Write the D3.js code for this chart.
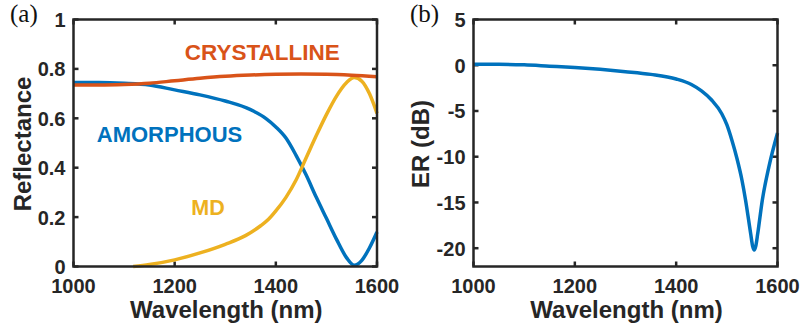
<!DOCTYPE html>
<html>
<head>
<meta charset="utf-8">
<script src="https://cdn.jsdelivr.net/npm/d3@7"></script>
<style>
  html, body { margin: 0; padding: 0; background: #fff; }
  svg { display: block; }
  text { font-family: "Liberation Sans", Arial, sans-serif; font-weight: bold; fill: #262626; }
</style>
</head>
<body>
<svg id="chart" width="804" height="330"></svg>
<script>
// ---------- data ----------
const xTicks = [1000, 1200, 1400, 1600];
const yTicksA = [0, 0.2, 0.4, 0.6, 0.8, 1];
const yTickLabelsA = ["0", "0.2", "0.4", "0.6", "0.8", "1"];
const yTicksB = [5, 0, -5, -10, -15, -20];

const crystallineWl = [1000, 1050, 1100, 1150, 1200, 1250, 1300, 1350, 1400, 1450, 1500, 1550, 1600];
const crystallineR  = [0.735, 0.735, 0.737, 0.742, 0.752, 0.762, 0.770, 0.775, 0.778, 0.779, 0.778, 0.774, 0.768];

const amorphousWl = [1000, 1050, 1100, 1150, 1200, 1250, 1300, 1350, 1380, 1400, 1420, 1440, 1460, 1480, 1500, 1520, 1540, 1555, 1570, 1585, 1600];
const amorphousR  = [0.745, 0.745, 0.742, 0.735, 0.715, 0.695, 0.670, 0.635, 0.600, 0.565, 0.520, 0.450, 0.370, 0.280, 0.195, 0.110, 0.035, 0.005, 0.025, 0.075, 0.140];

const mdWl = [1118, 1150, 1200, 1250, 1300, 1340, 1370, 1385, 1400, 1420, 1440, 1460, 1480, 1500, 1520, 1540, 1555, 1570, 1585, 1600];
const mdR  = [0.000, 0.008, 0.027, 0.055, 0.090, 0.125, 0.165, 0.190, 0.225, 0.280, 0.350, 0.440, 0.530, 0.615, 0.690, 0.745, 0.765, 0.750, 0.700, 0.620];

const erWl = [1000, 1050, 1100, 1150, 1200, 1250, 1300, 1350, 1400, 1430, 1450, 1470, 1490, 1500, 1510, 1520, 1530, 1537, 1547, 1551, 1554, 1557, 1561, 1570, 1583, 1600];
const erDb = [0.1, 0.1, 0.05, -0.1, -0.25, -0.45, -0.7, -1.0, -1.5, -2.1, -2.8, -3.8, -5.3, -6.5, -8.2, -10.2, -12.6, -14.75, -18.4, -19.8, -20.2, -19.8, -18.4, -14.75, -11.1, -7.4];

const annotations = [
  { text: "CRYSTALLINE", wl: 1220, r: 0.835, color: "#D95319", size: 22.5 },
  { text: "AMORPHOUS", wl: 1046, r: 0.503, color: "#0072BD", size: 22 },
  { text: "MD", wl: 1233, r: 0.208, color: "#EDB120", size: 21.5 }
];

// ---------- drawing ----------
const svg = d3.select("#chart");
const axisColor = "#262626";

function panel(opts) {
  const g = svg.append("g");
  const x = d3.scaleLinear().domain([1000, 1600]).range([opts.left, opts.right]);
  const y = d3.scaleLinear().domain(opts.yDomain).range([opts.bottom, opts.top]);
  const tl = 5;

  // x ticks (bottom & top, inward)
  xTicks.forEach(t => {
    g.append("line").attr("x1", x(t)).attr("x2", x(t)).attr("y1", opts.bottom).attr("y2", opts.bottom - tl)
      .attr("stroke", axisColor).attr("stroke-width", 2.5);
    g.append("line").attr("x1", x(t)).attr("x2", x(t)).attr("y1", opts.top).attr("y2", opts.top + tl)
      .attr("stroke", axisColor).attr("stroke-width", 2.5);
    g.append("text").attr("x", x(t)).attr("y", 293).attr("text-anchor", "middle")
      .attr("font-size", 20).text(t);
  });
  // y ticks (left & right, inward)
  opts.yTicks.forEach((t, i) => {
    g.append("line").attr("x1", opts.left).attr("x2", opts.left + tl).attr("y1", y(t)).attr("y2", y(t))
      .attr("stroke", axisColor).attr("stroke-width", 2.5);
    g.append("line").attr("x1", opts.right).attr("x2", opts.right - tl).attr("y1", y(t)).attr("y2", y(t))
      .attr("stroke", axisColor).attr("stroke-width", 2.5);
    g.append("text").attr("x", opts.left - 8).attr("y", y(t) + 7.5).attr("text-anchor", "end")
      .attr("font-size", 20).text(opts.yLabels ? opts.yLabels[i] : t);
  });

  // lines
  const line = d3.line().x(d => x(d[0])).y(d => y(d[1])).curve(d3.curveMonotoneX);
  opts.series.forEach(s => {
    g.append("path").datum(d3.zip(s.wl, s.v)).attr("d", line)
      .attr("fill", "none").attr("stroke", s.color).attr("stroke-width", 3.5)
      .attr("stroke-linejoin", "round");
  });

  // frame
  g.append("rect").attr("x", opts.left).attr("y", opts.top)
    .attr("width", opts.right - opts.left).attr("height", opts.bottom - opts.top)
    .attr("fill", "none").attr("stroke", axisColor).attr("stroke-width", 2.5);

  // axis labels
  g.append("text").attr("x", (opts.left + opts.right) / 2 + 1).attr("y", 317.5)
    .attr("text-anchor", "middle").attr("font-size", 24).text("Wavelength (nm)");
  g.append("text").attr("transform", `translate(${opts.yLabelX},${(opts.top + opts.bottom) / 2 + 1}) rotate(-90)`)
    .attr("text-anchor", "middle").attr("font-size", 24).text(opts.yTitle);

  // panel letter
  g.append("text").attr("x", opts.letterX).attr("y", 22)
    .style("font-family", "'Liberation Serif', 'Times New Roman', serif").style("font-weight", "normal")
    .attr("font-size", 25).style("fill", "#111").text(opts.letter);

  return { g, x, y };
}

const A = panel({
  left: 73.5, right: 377, top: 19.5, bottom: 266.5,
  yDomain: [0, 1], yTicks: yTicksA, yLabels: yTickLabelsA,
  yTitle: "Reflectance", yLabelX: 30.5, letter: "(a)", letterX: 10,
  series: [
    { wl: amorphousWl, v: amorphousR, color: "#0072BD" },
    { wl: mdWl, v: mdR, color: "#EDB120" },
    { wl: crystallineWl, v: crystallineR, color: "#D95319" }
  ]
});

annotations.forEach(a => {
  A.g.append("text").attr("x", A.x(a.wl)).attr("y", A.y(a.r))
    .attr("font-size", a.size).style("fill", a.color).text(a.text);
});

panel({
  left: 473.5, right: 777.5, top: 19.5, bottom: 266.5,
  yDomain: [-22, 5], yTicks: yTicksB,
  yTitle: "ER (dB)", yLabelX: 429, letter: "(b)", letterX: 410,
  series: [
    { wl: erWl, v: erDb, color: "#0072BD" }
  ]
});
</script>
</body>
</html>
